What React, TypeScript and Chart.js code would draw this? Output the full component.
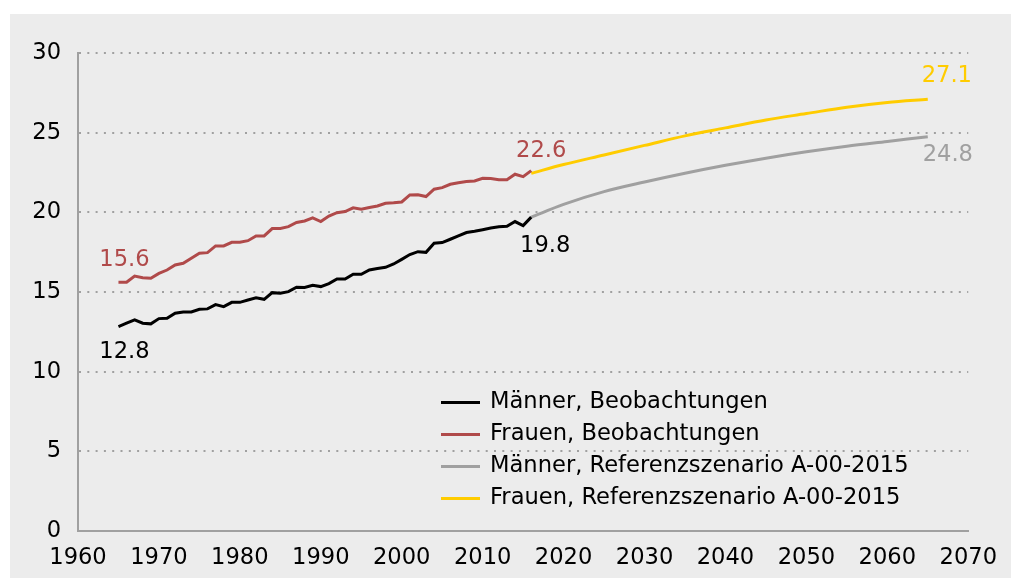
import { useEffect, useRef } from "react";
import { Chart, registerables } from "chart.js";

Chart.register(...registerables);

const FONT = '"DejaVu Sans", Verdana, sans-serif';
const FONT_SIZE = 22.6;

const obsYears = [
  1965, 1966, 1967, 1968, 1969, 1970, 1971, 1972, 1973, 1974,
  1975, 1976, 1977, 1978, 1979, 1980, 1981, 1982, 1983, 1984,
  1985, 1986, 1987, 1988, 1989, 1990, 1991, 1992, 1993, 1994,
  1995, 1996, 1997, 1998, 1999, 2000, 2001, 2002, 2003, 2004,
  2005, 2006, 2007, 2008, 2009, 2010, 2011, 2012, 2013, 2014,
  2015, 2016,
];

const menObserved = [
  12.83, 13.04, 13.25, 13.04, 13.0, 13.33, 13.35, 13.67, 13.75, 13.75,
  13.92, 13.94, 14.21, 14.08, 14.35, 14.35, 14.5, 14.63, 14.54, 14.96,
  14.92, 15.02, 15.3, 15.28, 15.42, 15.34, 15.53, 15.82, 15.82, 16.11,
  16.11, 16.38, 16.47, 16.55, 16.76, 17.05, 17.35, 17.53, 17.49, 18.06,
  18.1, 18.31, 18.52, 18.73, 18.81, 18.91, 19.02, 19.1, 19.12, 19.42,
  19.17, 19.7,
];

const womenObserved = [
  15.61, 15.61, 16.0, 15.9, 15.86, 16.17, 16.38, 16.7, 16.8, 17.12,
  17.43, 17.47, 17.89, 17.89, 18.12, 18.12, 18.22, 18.52, 18.52, 18.98,
  18.99, 19.1, 19.36, 19.46, 19.65, 19.42, 19.77, 19.98, 20.05, 20.28,
  20.2, 20.3, 20.4, 20.57, 20.6, 20.65, 21.09, 21.1, 20.99, 21.45,
  21.55, 21.76, 21.86, 21.93, 21.97, 22.14, 22.12, 22.05, 22.05, 22.39,
  22.24, 22.62,
];

const projYears = [2016, 2020, 2025, 2030, 2035, 2040, 2045, 2050, 2055, 2060, 2065];
const menProjection = [19.7, 20.5, 21.3, 21.9, 22.45, 22.95, 23.4, 23.8, 24.15, 24.45, 24.75];
const womenProjection = [22.45, 23.0, 23.6, 24.2, 24.8, 25.3, 25.8, 26.2, 26.6, 26.9, 27.1];

const yTicks = [0, 5, 10, 15, 20, 25, 30];
const xTicks = [1960, 1970, 1980, 1990, 2000, 2010, 2020, 2030, 2040, 2050, 2060, 2070];

const seriesNames = [
  "Männer, Beobachtungen",
  "Frauen, Beobachtungen",
  "Männer, Referenzszenario A-00-2015",
  "Frauen, Referenzszenario A-00-2015",
];
const seriesColors = ["#000000", "#b04a4a", "#a0a0a0", "#ffcc00"];

// value annotations: text, colour, anchor (year, value), pixel offset
const annotations = [
  { text: "15.6", color: "#b04a4a", year: 1965, value: 15.6, dx: 6, dy: -22 },
  { text: "12.8", color: "#000000", year: 1965, value: 12.8, dx: 6, dy: 25 },
  { text: "22.6", color: "#b04a4a", year: 2016, value: 22.6, dx: 10, dy: -20 },
  { text: "19.8", color: "#000000", year: 2016, value: 19.7, dx: 14, dy: 29 },
  { text: "27.1", color: "#ffcc00", year: 2065, value: 27.1, dx: 19, dy: -23 },
  { text: "24.8", color: "#a0a0a0", year: 2065, value: 24.75, dx: 20, dy: 18 },
];

const pts = (xs: number[], ys: number[]) => xs.map((x, i) => ({ x, y: ys[i] }));

const overlayPlugin = {
  id: "overlay",
  afterDatasetsDraw(chart: any) {
    const { ctx, chartArea, scales } = chart;
    ctx.save();
    ctx.font = `${FONT_SIZE}px ${FONT}`;
    ctx.textAlign = "center";
    ctx.textBaseline = "middle";
    for (const a of annotations) {
      ctx.fillStyle = a.color;
      ctx.fillText(
        a.text,
        scales.x.getPixelForValue(a.year) + a.dx,
        scales.y.getPixelForValue(a.value) + a.dy
      );
    }
    // legend
    ctx.textAlign = "left";
    const lx = chartArea.left + 363;
    const ly = chartArea.top + 349.5;
    seriesNames.forEach((name, i) => {
      const y = ly + i * 32;
      ctx.strokeStyle = seriesColors[i];
      ctx.lineWidth = 3;
      ctx.beginPath();
      ctx.moveTo(lx, y);
      ctx.lineTo(lx + 39, y);
      ctx.stroke();
      ctx.fillStyle = "#000000";
      ctx.fillText(name, lx + 49, y);
    });
    ctx.restore();
  },
};

export default function App() {
  const ref = useRef<HTMLCanvasElement>(null);
  useEffect(() => {
    document.body.style.margin = "0";
    const chart = new Chart(ref.current!, {
      type: "line",
      data: {
        datasets: [
          {
            label: seriesNames[0],
            data: pts(obsYears, menObserved),
            borderColor: seriesColors[0],
            borderWidth: 3,
            pointRadius: 0,
            tension: 0,
          },
          {
            label: seriesNames[1],
            data: pts(obsYears, womenObserved),
            borderColor: seriesColors[1],
            borderWidth: 3,
            pointRadius: 0,
            tension: 0,
          },
          {
            label: seriesNames[2],
            data: pts(projYears, menProjection),
            borderColor: seriesColors[2],
            borderWidth: 3,
            pointRadius: 0,
            cubicInterpolationMode: "monotone",
          },
          {
            label: seriesNames[3],
            data: pts(projYears, womenProjection),
            borderColor: seriesColors[3],
            borderWidth: 3,
            pointRadius: 0,
            cubicInterpolationMode: "monotone",
          },
        ],
      },
      options: {
        responsive: false,
        animation: false,
        layout: { padding: { left: 10, top: 39, right: 36, bottom: 0 } },
        plugins: {
          legend: { display: false },
          tooltip: { enabled: false },
        },
        scales: {
          x: {
            type: "linear",
            min: 1960,
            max: 2070,
            afterBuildTicks: (s: any) => {
              s.ticks = xTicks.map((v) => ({ value: v }));
            },
            afterFit: (s: any) => {
              s.height = 47;
            },
            grid: { display: false, drawTicks: false },
            border: { display: true, color: "#a0a0a0", width: 2 },
            ticks: {
              color: "#000000",
              font: { family: FONT, size: FONT_SIZE },
              padding: 14,
              maxRotation: 0,
              autoSkip: false,
              callback: (v: any) => String(v),
            },
          },
          y: {
            min: 0,
            max: 30,
            afterBuildTicks: (s: any) => {
              s.ticks = yTicks.map((v) => ({ value: v }));
            },
            afterFit: (s: any) => {
              s.width = 58;
            },
            grid: { display: true, drawTicks: false, color: "#a0a0a0", lineWidth: 2 },
            border: { display: true, color: "#a0a0a0", width: 2, dash: [2, 6.3] },
            ticks: {
              color: "#000000",
              font: { family: FONT, size: FONT_SIZE },
              padding: 17,
              callback: (v: any) => String(v),
            },
          },
        },
      },
      plugins: [overlayPlugin],
    } as any);
    return () => chart.destroy();
  }, []);
  return (
    <div
      style={{
        position: "absolute",
        left: 10,
        top: 14,
        width: 1001,
        height: 564,
        background: "#ececec",
      }}
    >
      <canvas ref={ref} width={1001} height={564} style={{ width: 1001, height: 564 }} />
    </div>
  );
}
